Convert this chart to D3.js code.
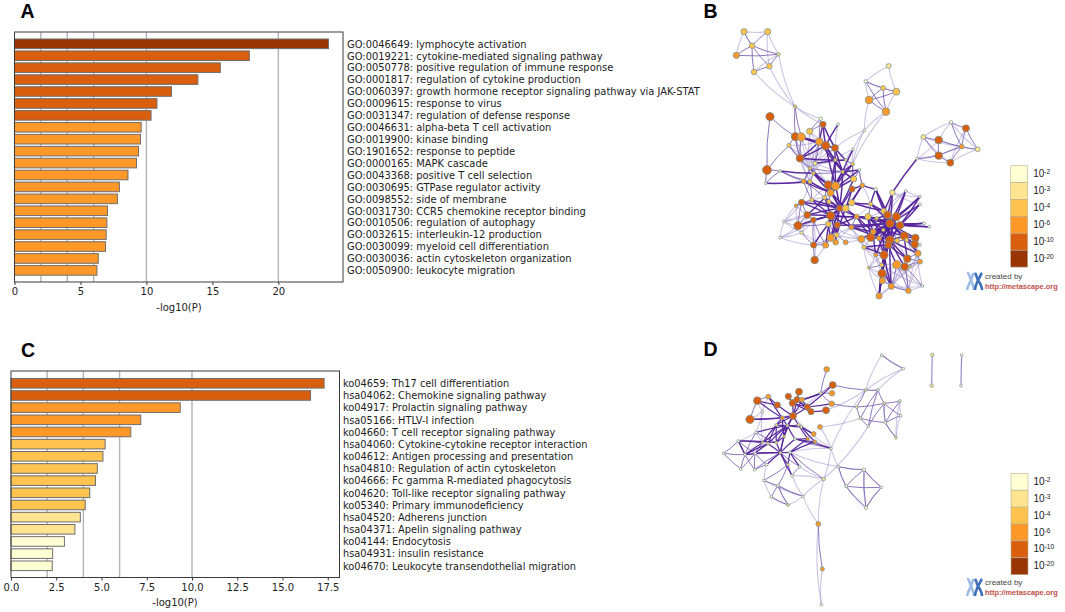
<!DOCTYPE html>
<html><head><meta charset="utf-8">
<script src="https://cdn.jsdelivr.net/npm/d3@7"></script>
<style>
html,body{margin:0;padding:0;background:#fff}
svg{display:block;font-family:"DejaVu Sans",sans-serif}
</style></head><body>
<svg id="c" width="1065" height="612"></svg>
<script>
// ---------- Bar data ----------
const termsA = ["GO:0046649: lymphocyte activation","GO:0019221: cytokine-mediated signaling pathway","GO:0050778: positive regulation of immune response","GO:0001817: regulation of cytokine production","GO:0060397: growth hormone receptor signaling pathway via JAK-STAT","GO:0009615: response to virus","GO:0031347: regulation of defense response","GO:0046631: alpha-beta T cell activation","GO:0019900: kinase binding","GO:1901652: response to peptide","GO:0000165: MAPK cascade","GO:0043368: positive T cell selection","GO:0030695: GTPase regulator activity","GO:0098552: side of membrane","GO:0031730: CCR5 chemokine receptor binding","GO:0010506: regulation of autophagy","GO:0032615: interleukin-12 production","GO:0030099: myeloid cell differentiation","GO:0030036: actin cytoskeleton organization","GO:0050900: leukocyte migration"];
const valuesA = [23.8,17.8,15.6,13.9,11.9,10.8,10.35,9.6,9.55,9.4,9.25,8.6,7.95,7.8,7.05,7.0,6.95,6.9,6.35,6.25];
const ticksA = [0,5,10,15,20];
const termsC = ["ko04659: Th17 cell differentiation","hsa04062: Chemokine signaling pathway","ko04917: Prolactin signaling pathway","hsa05166: HTLV-I infection","ko04660: T cell receptor signaling pathway","hsa04060: Cytokine-cytokine receptor interaction","ko04612: Antigen processing and presentation","hsa04810: Regulation of actin cytoskeleton","ko04666: Fc gamma R-mediated phagocytosis","ko04620: Toll-like receptor signaling pathway","ko05340: Primary immunodeficiency","hsa04520: Adherens junction","hsa04371: Apelin signaling pathway","ko04144: Endocytosis","hsa04931: insulin resistance","ko04670: Leukocyte transendothelial migration"];
const valuesC = [17.3,16.55,9.35,7.17,6.62,5.2,5.08,4.77,4.67,4.35,4.1,3.83,3.53,2.95,2.3,2.28];
const ticksC = [0,2.5,5,7.5,10,12.5,15,17.5];
const gridA = [2,4,6,10,20];
const gridC = [2,4,6,10];
const legendExp = ["-2","-3","-4","-6","-10","-20"];
const levelCuts = [3,4,6,10,20];
const levelColors = ["#ffffd4","#fee391","#fec44f","#fe9929","#d95f0e","#993404"];

// ---------- Network B: x, y, size, level (-log10 P) ----------
const nodesB = [
[132,95,8,5],[203,95,8,5],[156,137,7,5],[109,166,8,9],[236,163,4,3],[208,199,7,5],[162,216,7,5],
[566,198,6,3],[497,244,4,2],[549,264,6,5],[589,275,9,5],[507,300,10,8],[558,335,10,8],
[753,367,4,2],[798,385,9,11],[670,411,6,3],[716,420,10,11],[785,440,6,8],[833,448,6,3],[716,467,10,11],[651,476,3,2],[751,488,9,11],
[285,320,4,4],[362,356,4,2],[493,391,3,2],
[210,350,11,11],[369,373,8,11],[414,373,3,2],[201,510,12,11],[286,410,11,11],[304,411,11,9],[329,394,8,5],[267,436,5,5],
[358,425,10,9],[377,437,11,11],[405,444,9,11],[300,475,10,11],[459,448,3,2],[240,513,3,2],[197,550,3,2],
[330,505,4,5],[345,490,5,3],[385,555,11,15],[407,558,11,9],[392,578,9,8],[456,567,8,11],[461,537,8,5],[487,556,6,8],[428,515,4,4],[406,480,4,4],[458,492,4,4],[478,510,3,2],[311,544,6,8],[330,545,5,5],[340,520,4,4],[437,480,3,3],
[527,568,4,2],[577,578,7,3],[617,573,3,2],[660,590,3,2],[660,613,3,2],
[335,600,5,4],[305,607,8,11],[288,617,4,8],[322,645,9,11],[340,660,7,11],[374,593,5,4],[392,647,11,11],[419,625,8,11],[437,625,9,5],[455,608,8,5],[387,605,5,4],
[294,677,11,11],[252,665,3,2],[240,713,3,2],[305,698,4,3],[385,672,7,5],[412,675,8,11],[392,713,10,8],[407,727,7,8],[377,735,8,9],[341,735,8,11],[344,780,10,11],[437,727,6,8],[410,705,6,5],
[454,682,6,8],[470,650,6,8],[504,650,8,5],[512,612,5,4],[551,633,7,5],[563,645,10,11],[589,650,11,11],[570,670,11,11],[600,676,10,11],[530,655,4,4],
[512,712,11,11],[484,717,9,8],[492,742,5,5],[520,695,7,8],[537,715,6,8],[570,720,11,11],[565,735,9,11],[613,708,11,11],[646,714,10,11],[644,733,10,11],[654,760,8,9],[660,785,6,8],[622,776,10,15],[614,800,10,15],[590,794,11,8],[552,765,11,11],[527,765,5,8],[506,803,3,4],[545,795,5,5],[546,820,11,11],[547,842,8,9],[574,859,8,9],[625,872,7,8],[537,888,8,9],[667,858,3,2],[672,670,3,2],[688,680,3,2],[660,735,3,2],[620,720,5,5],[630,800,3,4],[592,722,6,5],[550,690,4,4]
];
const weakB = [[0,1],[0,3],[1,4],[0,2],[4,22],[5,22],[6,22],[4,6],[1,5],[7,8],[7,10],[8,10],[10,12],[8,11],[22,23],[22,26],[11,24],[12,24],[24,35],[24,37],[24,50],[12,50],[13,15],[13,16],[15,20],[15,21],[20,21],[14,21],[18,21],[13,18],[16,18],[20,16],[20,17],[15,17],
[73,72],[73,74],[73,75],[73,64],[74,72],[74,75],[63,73],[74,81],[75,65],[72,65],[32,36],[33,40],[29,36],[30,36],[32,40],[36,41],[40,52],[36,53],[29,53],[63,72],[63,64],[31,40],[31,35],[27,49],[37,49],[37,55],[50,55],[43,50],[41,48],[41,55],[36,49],
[112,111],[112,115],[112,118],[113,119],[116,119],[117,119],[115,117],[116,118],[97,111],[97,112],[110,112],[114,117],[105,119],[109,119],[106,117],[58,59],[57,59],[57,60],[58,89],[58,90],[104,122],[103,122],[105,106],[124,106],[124,105],[124,116],[96,110],[97,113],[76,96],[85,96],[85,97],
[29,40],[30,40],[30,41],[33,41],[33,54],[36,54],[36,40],[41,54],[41,52],[40,53],[54,53],[33,49],[31,49],[31,41],[32,41],[32,33],[35,41],[35,54],[40,43],[41,42],[34,54],[34,40],[55,46],[37,46],[50,46],[43,51],[49,46],[51,47],
[62,63],[61,63],[62,53],[66,61],[66,71],[42,71],[42,66],[42,61],[64,73],[72,75],[72,64],[73,62],[74,65],[75,64],[75,80],[81,78],[82,80],[82,65],[83,96],[84,96],[85,79],[85,84],[97,95],[97,96],[96,95],[86,88],[87,89],[88,47],
[109,113],[109,114],[109,115],[108,116],[108,115],[107,116],[107,117],[106,116],[105,117],[104,106],[103,105],[103,106],[111,113],[111,114],[112,114],[115,113],[118,116],[110,115],[101,113],[100,111],[102,106],[123,105],[123,103],[125,107]];
const midB = [[0,2],[2,3],[2,4],[2,5],[2,6],[3,4],[4,5],[5,6],[1,2],[8,9],[8,12],[9,10],[9,11],[9,12],[11,12],[11,10],
[15,16],[15,19],[16,19],[16,17],[17,19],[14,17],[13,17],[13,14],[14,18],[17,18],[19,21],[17,21],[20,19],
[25,28],[25,29],[22,29],[22,30],[23,33],[23,31],[26,31],[32,28],[38,39],[38,28],[39,52],[38,52],[38,53],[28,39],
[62,72],[62,64],[64,72],[64,65],[65,72],[65,81],[81,82],[80,81],[72,76],[75,81],[65,80],[78,80],[79,78],[83,84],[84,77],[86,85],[87,88],[71,66],[61,53],[62,61],[63,62],[66,52],[53,44],[52,61],
[114,115],[115,118],[116,117],[116,115],[116,114],[118,114],[117,108],[117,109],[119,108],[116,109],[111,110],[113,110],[113,114],[112,113],[105,107],[106,107],[106,108],[124,108],[103,104],[104,105],[92,125],[125,123],
[29,36],[30,36],[29,32],[32,36],[36,40],[40,41],[41,33],[40,48],[54,48],[53,54],[52,40],[49,55],[55,50],[50,46],[46,51],[51,47],[79,84],[80,78],[76,84],[66,71],[42,66],[42,44],[44,71],[44,66]];
const strongB = [[20,57],[26,33],[26,34],[27,34],[26,35],[29,33],[30,33],[30,34],[33,34],[34,35],[34,49],[35,49],[35,48],[34,48],[33,48],[36,34],[36,33],[36,49],[41,49],[49,55],[49,48],[48,50],[48,51],[37,48],[35,55],[48,46],[48,43],[48,44],[49,44],[49,43],[34,43],[39,53],[38,54],[40,42],[54,42],[54,44],[53,44],[52,44],[46,44],[50,44],[51,44],
[68,42],[68,43],[68,44],[68,46],[68,45],[68,48],[68,66],[68,71],[68,61],[68,62],[68,64],[68,67],[68,70],[68,77],[68,76],[68,69],[68,86],[68,78],[67,64],[67,65],[67,62],[67,61],[67,72],[67,76],[67,77],[67,86],[67,87],[64,66],[69,44],[69,45],[69,47],[69,86],[69,84],[67,66],[45,47],[47,56],[56,88],[56,89],[47,70],[70,89],[70,88],[86,87],[87,92],[86,92],[77,92],[85,92],[76,78],[77,78],[77,79],[84,78],[67,80],[67,84],[76,81],
[92,89],[92,90],[92,91],[92,93],[92,94],[92,88],[92,87],[92,56],[92,57],[92,58],[92,59],[92,60],[92,120],[92,121],[92,95],[92,96],[92,98],[92,99],[92,100],[92,101],[92,102],[92,103],[92,104],[92,110],[92,111],[92,126],[92,123],[93,59],[93,60],[93,120],[93,121],[91,59],[91,58],[90,57],[90,56],[89,57],[100,110],[100,114],[101,110],[101,114],[101,109],[101,107],[100,102],[100,107],[102,103],[102,104],[100,108],[99,110],[98,111],[95,99],[126,101],[126,95],[110,114],[110,118],[114,118],[101,118],[100,116],[113,116],[110,116],[101,97],[110,97],[102,107],[102,105],[100,105],[94,90],[94,87],[88,89],
[93,100],[93,101],[93,95],[91,100],[91,101],[91,95],[90,100],[90,101],[90,98],[89,100],[87,100],[87,95],[87,98],[86,95],[86,98],[85,100],[85,98],[126,92],[126,100],[126,102],[126,98],[126,110],[126,91],[126,93],[126,87],[98,101],[77,86],[67,85],[67,68],[68,85]];

// ---------- Network D ----------
const nodesD = [
[545,75,3,2],[610,116,3,2],[697,75,4,3],[695,167,4,3],[785,75,3,2],[783,167,3,2],
[380,118,7,8],[398,165,9,11],[396,190,7,8],[395,221,7,8],[378,241,9,11],[362,190,3,3],[297,185,9,11],[265,199,8,11],[205,200,6,9],[172,212,10,11],[232,225,8,11],[278,219,9,11],[291,209,8,11],[306,209,6,9],[322,231,8,11],[333,245,8,11],[279,258,9,11],[150,268,11,11],[247,264,5,9],[360,291,6,8],[341,312,6,8],[323,326,4,8],[345,335,4,9],
[187,245,3,2],[229,285,3,3],[262,287,3,3],[296,285,3,3],[304,291,3,3],[168,307,3,2],[252,320,3,4],[285,327,3,2],[115,333,3,2],[188,338,3,3],[204,341,3,3],[229,338,3,3],[71,370,3,2],[135,374,3,2],[165,370,3,2],[241,368,3,3],[270,367,3,2],[122,417,3,2],[164,419,3,2],[200,404,3,2],[264,404,3,3],[299,410,3,2],[276,437,3,2],[192,451,3,2],[234,467,3,2],[214,501,3,2],[264,525,3,3],[309,499,3,2],[371,447,4,3],[393,355,3,2],[415,410,3,2],[492,419,4,2],[544,472,3,2],[438,469,3,2],[498,533,4,2],[355,582,6,7],[367,717,5,7],[364,824,3,2],
[497,180,3,3],[534,180,3,2],[470,231,3,3],[552,220,3,3],[600,213,3,2],[602,257,3,2],[481,265,3,3],[505,289,3,2],[556,278,3,2],[588,323,3,3]
];
const weakD = [[0,1],[0,67],[1,67],[67,68],[1,68],[57,58],[57,74],[57,56],[56,64],[65,66],[64,66],[57,64],[58,59],[59,60],[58,25],[22,58],[25,73],[24,11],[57,51],[51,56],[50,57],[52,56],[58,45],[10,67],[67,58],[45,59],[37,34],[34,29],[29,38],[23,29],[15,29],[71,72],[72,76],[71,76],[75,76],[70,75],[59,62],[62,63],[60,61],[61,63],[60,63],[55,56],[54,55],[52,54],[53,55],[53,56],[48,52],[49,51],[34,38],[14,29]];
const midD = [[0,1],[6,11],[11,9],[7,67],[7,11],[8,11],[9,69],[69,67],[67,68],[68,74],[69,73],[69,70],[70,71],[70,72],[70,75],[70,74],[71,75],[72,75],[75,76],[73,74],[73,75],[68,73],[68,70],[59,60],[59,62],[60,61],[60,62],[60,63],[62,61],[62,63],[61,63],[52,53],[52,49],[53,54],[53,55],[53,56],[54,55],[53,49],[49,51],[41,42],[41,37],[41,46],[37,42],[37,43],[42,46],[42,43],[46,43],[43,47],[42,47],[43,48],[48,47],[44,48],[44,47],[38,43],[39,43],[34,42],[34,40],[36,58],[28,58],[45,57],[44,50],[50,51],[64,65],[15,23],[14,15]];
const straightD = [[2,3],[4,5]];
const strongD = [[15,24],[14,24],[14,16],[15,16],[16,22],[23,24],[24,22],[23,22],[13,17],[12,18],[17,18],[17,19],[18,19],[19,20],[18,20],[17,20],[20,21],[17,21],[18,21],[17,11],[19,11],[21,10],[20,9],[20,7],[22,17],[22,18],[22,19],[22,20],[22,31],[22,30],[22,32],[24,31],[24,30],[24,35],[22,35],[31,35],[31,30],[31,32],[31,33],[31,36],[31,38],[31,39],[31,40],[31,34],[31,44],[30,40],[30,39],[30,38],[35,40],[35,44],[32,33],[32,26],[33,26],[33,28],[32,27],[36,28],[36,27],[36,44],[44,40],[44,39],[44,43],[44,42],[44,45],[44,48],[44,49],[45,49],[39,42],[38,42],[39,43],[38,37],[40,37],[42,37],[28,45],[27,45],[58,36],[45,50],[44,51]];

// ---------- Scales and helpers ----------
const svg = d3.select("#c");
const fillOf = d3.scaleThreshold().domain(levelCuts).range(levelColors);
const grey = "#3a3a3a";
svg.append("defs").append("filter").attr("id","soft").attr("x","-5%").attr("y","-5%").attr("width","110%").attr("height","110%")
  .append("feGaussianBlur").attr("stdDeviation",0.35);

function panel(letter,x,y){
  svg.append("text").attr("x",x).attr("y",y).text(letter)
    .attr("font-family","'Liberation Sans',sans-serif").attr("font-weight",700)
    .attr("font-size",19.5).attr("fill","#000");
}
function barChart(o){
  const g = svg.append("g");
  const x = d3.scaleLinear().domain(o.domain).range([o.left,o.right]);
  const y = d3.scalePoint().domain(d3.range(o.terms.length)).range(o.yRange);
  g.selectAll(".grid").data(o.grid).join("line")
    .attr("x1",d=>x(d)).attr("x2",d=>x(d)).attr("y1",o.top).attr("y2",o.bottom)
    .attr("stroke","#b4b4b4").attr("stroke-width",1.4);
  g.selectAll(".bar").data(o.values).join("rect")
    .attr("x",x(0)).attr("y",(d,i)=>y(i)-o.barH/2)
    .attr("width",d=>x(d)-x(0)).attr("height",o.barH)
    .attr("fill",d=>fillOf(d)).attr("stroke","#6e6e6e").attr("stroke-width",1);
  g.append("rect").attr("x",o.left).attr("y",o.top).attr("width",o.right-o.left).attr("height",o.bottom-o.top)
    .attr("fill","none").attr("stroke",grey).attr("stroke-width",1);
  const ax = g.append("g").attr("transform",`translate(0,${o.bottom})`)
    .call(d3.axisBottom(x).tickValues(o.ticks).tickSize(3).tickPadding(3).tickFormat(o.fmt));
  ax.select(".domain").remove();
  ax.selectAll("line").attr("stroke",grey);
  ax.selectAll("text").attr("font-family","'DejaVu Sans'").attr("font-size",o.fs).attr("fill","#222");
  g.append("text").attr("x",o.labelX).attr("y",o.labelY).attr("text-anchor","middle")
    .attr("font-size",o.fs).attr("fill","#222").text("-log10(P)");
  g.selectAll(".term").data(o.terms).join("text")
    .attr("x",o.textX).attr("y",(d,i)=>y(i)+o.textDy)
    .attr("font-size",o.tfs).attr("fill","#1c1c1c").text(d=>d);
}
function network(nodes,lists,ox,oy,strongW){
  const sx = d3.scaleLinear().domain([0,365]).range([ox,ox+365/3]);
  const sy = d3.scaleLinear().domain([0,300]).range([oy,oy+100]);
  const sr = d3.scaleLinear().domain([3,12]).range([1.4,4.5]);
  const g = svg.append("g").attr("filter","url(#soft)");
  const curve = (a,b,k)=>{
    const x1=sx(a[0]),y1=sy(a[1]),x2=sx(b[0]),y2=sy(b[1]);
    const mx=(x1+x2)/2,my=(y1+y2)/2,dx=x2-x1,dy=y2-y1;
    const p=d3.path();p.moveTo(x1,y1);p.quadraticCurveTo(mx-dy*k,my+dx*k,x2,y2);return p.toString();
  };
  const styles=[["#9c8cc8",1.1,.5,.07],["#7355ae",1,.8,.05],["#54239a",strongW,.95,.03],["#8c74bf",1.2,.85,.005]];
  lists.forEach((list,t)=>{
    g.append("g").selectAll("path").data(list).join("path")
      .attr("d",d=>curve(nodes[d[0]],nodes[d[1]],styles[t][3]))
      .attr("fill","none").attr("stroke",styles[t][0])
      .attr("stroke-width",styles[t][1]).attr("stroke-opacity",styles[t][2]);
  });
  g.append("g").selectAll("circle").data(nodes).join("circle")
    .attr("cx",d=>sx(d[0])).attr("cy",d=>sy(d[1])).attr("r",d=>sr(d[2]))
    .attr("fill",d=>fillOf(d[3])).attr("stroke","#6f9092").attr("stroke-width",.7);
}
function legend(x,y){
  const h = 16.9, w = 17;
  const g = svg.append("g");
  const yy = d3.scaleBand().domain(d3.range(6)).range([y,y+6*h]);
  g.selectAll("rect").data(levelColors).join("rect")
    .attr("x",x).attr("y",(d,i)=>yy(i)).attr("width",w).attr("height",h)
    .attr("fill",d=>d).attr("stroke","#b9ae92").attr("stroke-width",.6);
  const t = g.selectAll("text").data(legendExp).join("text")
    .attr("x",x+22.5).attr("y",(d,i)=>yy(i)+11.5).attr("font-family","'Liberation Sans'").attr("font-size",10).attr("fill","#222");
  t.append("tspan").text("10");
  t.append("tspan").attr("font-size",6.5).attr("dy",-3).text(d=>d);
}
function logo(x,y){
  const g = svg.append("g").attr("transform",`translate(${x},${y})`);
  g.append("path").attr("d","M1,1 C4,1 3,5 5,8 C4,11 2,13 1,18 M8,1 C6,3 6,6 5,8 C6,11 8,14 8,18")
    .attr("fill","none").attr("stroke","#9dbde6").attr("stroke-width",2.6);
  g.append("path").attr("d","M9,1 C11,3 10,5 12,8 C11,11 9,14 9,18 M16,1 C14,3 14,6 12,8 C14,11 16,14 16,18")
    .attr("fill","none").attr("stroke","#3f6fb8").attr("stroke-width",2.6);
  g.append("text").attr("x",19).attr("y",7).attr("font-family","'Liberation Sans'").attr("font-size",8).attr("fill","#444").text("created by");
  g.append("text").attr("x",19).attr("y",17).attr("font-family","'Liberation Sans'").attr("font-weight",700).attr("font-size",7.4).attr("fill","#c0504a").text("http://metascape.org");
}

// ---------- Draw ----------
barChart({terms:termsA,values:valuesA,ticks:ticksA,grid:gridA,domain:[0,24.9],left:14.5,right:343,top:32,bottom:282,
  yRange:[43.8,270.4],barH:9.6,textX:347,textDy:3.8,fs:10,tfs:9.92,labelX:179,labelY:311,fmt:d3.format("d")});
barChart({terms:termsC,values:valuesC,ticks:ticksC,grid:gridC,domain:[0,18.15],left:11,right:339.5,top:371,bottom:577.5,
  yRange:[383.3,565.8],barH:9.6,textX:343,textDy:3.8,fs:10,tfs:9.84,labelX:175,labelY:606,fmt:d3.format(".1f")});
network(nodesB,[weakB,midB,strongB],700,0,1.5);
network(nodesD,[weakD,midD,strongD,straightD],700,330,1.25);
legend(1010.7,165.7);
legend(1011,473.3);
logo(966,272);
logo(966,578);
panel("A",20.5,18);
panel("B",703.5,18);
panel("C",21,357);
panel("D",703.5,356);
</script>
</body></html>
